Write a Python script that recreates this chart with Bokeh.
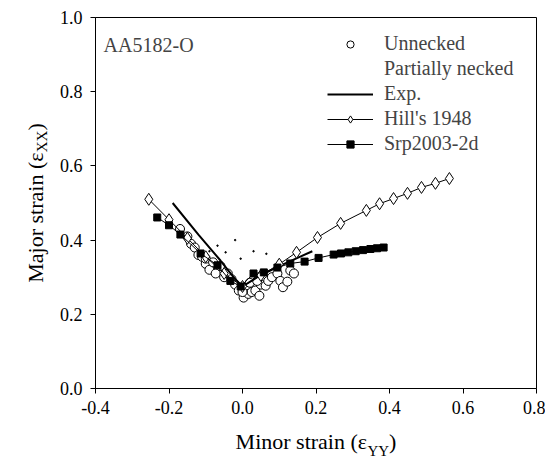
from bokeh.plotting import figure
from bokeh.models import Range1d, FixedTicker, NumeralTickFormatter, Legend, Label, LinearAxis
from bokeh.embed import file_html
from bokeh.resources import INLINE

# ---------------- data ----------------
unnecked_x = [-0.17, -0.15, -0.14, -0.13, -0.12, -0.11, -0.10, -0.10, -0.09, -0.08, -0.073, -0.06,
              -0.05, -0.04, -0.03, -0.02, -0.01, 0.003, 0.01, 0.016, 0.025, 0.035, 0.046, 0.05,
              0.063, 0.07, 0.08, 0.095, 0.103, 0.11, 0.122, 0.13, 0.14, 0.02, 0.04, 0.0]
unnecked_y = [0.43, 0.41, 0.39, 0.38, 0.36, 0.355, 0.336, 0.35, 0.32, 0.34, 0.31, 0.33,
              0.30, 0.31, 0.295, 0.28, 0.264, 0.245, 0.27, 0.255, 0.26, 0.264, 0.25, 0.28,
              0.277, 0.29, 0.30, 0.31, 0.29, 0.273, 0.288, 0.318, 0.31, 0.285, 0.29, 0.26]
partial_x = [-0.068, -0.046, -0.005, 0.065, -0.02, 0.03, -0.09]
partial_y = [0.385, 0.367, 0.35, 0.363, 0.40, 0.37, 0.37]
exp_x = [-0.19, -0.12, -0.06, -0.02, 0.0, 0.04, 0.1, 0.19]
exp_y = [0.50, 0.415, 0.345, 0.295, 0.275, 0.30, 0.33, 0.37]
hill_x = [-0.255, -0.2, -0.15, -0.1, -0.05, 0.0, 0.05, 0.1, 0.147, 0.204, 0.267, 0.337,
          0.373, 0.411, 0.449, 0.487, 0.525, 0.563]
hill_y = [0.51, 0.455, 0.405, 0.355, 0.31, 0.275, 0.305, 0.335, 0.367, 0.407, 0.445, 0.48,
          0.498, 0.512, 0.526, 0.542, 0.553, 0.566]
srp_x = [-0.232, -0.2, -0.169, -0.114, -0.068, -0.033, -0.005, 0.03, 0.058, 0.095, 0.13,
         0.169, 0.207, 0.248, 0.268, 0.288, 0.308, 0.328, 0.348, 0.366, 0.384]
srp_y = [0.461, 0.44, 0.415, 0.364, 0.332, 0.29, 0.275, 0.31, 0.313, 0.326, 0.337,
         0.342, 0.352, 0.361, 0.364, 0.367, 0.37, 0.373, 0.376, 0.378, 0.38]
x_ticks = [-0.4, -0.2, 0.0, 0.2, 0.4, 0.6, 0.8]
y_ticks = [0.0, 0.2, 0.4, 0.6, 0.8, 1.0]
legend_labels = ["Unnecked", "Partially necked", "Exp.", "Hill's 1948", "Srp2003-2d"]
title_text = "AA5182-O"
# axis labels: main text (em space leaves room for the subscript) and subscript
x_label = "Minor strain (\u03b5\u2003)"
x_sub = "YY"
y_label = "Major strain (\u03b5\u2003)"
y_sub = "XX"
x_sub_pos = 0.3695   # centre of the em space, in data units
y_sub_pos = 0.666

FONT = "Liberation Serif"
TICK_FS = "18px"
LEG_FS = "20px"
LAB_FS = "22px"
SUB_FS = "15px"

p = figure(width=545, height=465, output_backend="svg", toolbar_location=None,
           x_range=Range1d(-0.4, 0.8), y_range=Range1d(0.0, 1.0),
           min_border_left=95, min_border_right=9, min_border_top=17, min_border_bottom=77)
p.grid.visible = False
p.outline_line_color = "black"
p.outline_line_width = 1

for ax in (p.xaxis[0], p.yaxis[0]):
    ax.axis_line_color = "black"
    ax.major_tick_line_color = "black"
    ax.minor_tick_line_color = None
    ax.major_tick_out = 5
    ax.major_tick_in = 0
    ax.major_label_text_font = FONT
    ax.major_label_text_font_size = TICK_FS
    ax.major_label_text_color = "black"
    ax.formatter = NumeralTickFormatter(format="0.0")
    ax.axis_label_text_font = FONT
    ax.axis_label_text_font_size = LAB_FS
    ax.axis_label_text_font_style = "normal"
    ax.axis_label_text_color = "black"
p.xaxis[0].ticker = FixedTicker(ticks=x_ticks)
p.yaxis[0].ticker = FixedTicker(ticks=y_ticks)
p.xaxis[0].major_label_standoff = 7
p.yaxis[0].major_label_standoff = 8
p.xaxis[0].axis_label = x_label
p.yaxis[0].axis_label = y_label
p.xaxis[0].axis_label_standoff = 12
p.yaxis[0].axis_label_standoff = 9


# subscript axes (only labels, no lines or ticks)
def sub_axis(pos, text, standoff, orientation):
    a = LinearAxis(ticker=FixedTicker(ticks=[pos]), major_label_overrides={pos: text},
                   axis_line_color=None, major_tick_line_color=None, minor_tick_line_color=None,
                   major_tick_out=0, major_tick_in=0, major_label_standoff=standoff,
                   major_label_text_font=FONT, major_label_text_font_size=SUB_FS,
                   major_label_text_color="black", major_label_orientation=orientation)
    return a


p.add_layout(sub_axis(x_sub_pos, x_sub, -14, "horizontal"), "below")
p.add_layout(sub_axis(y_sub_pos, y_sub, -31, "vertical"), "left")

r_un = p.scatter(unnecked_x, unnecked_y, marker="circle", size=9, fill_color="white",
                 line_color="black", line_width=1)
p.scatter(partial_x, partial_y, marker="circle", size=1.5, fill_color="black", line_color="black")
r_pa = p.scatter([], [], marker="circle", size=1, fill_alpha=0, line_alpha=0)
r_exp = p.line(exp_x, exp_y, line_color="black", line_width=2)
r_hl = p.line(hill_x, hill_y, line_color="black", line_width=1)
r_hs = p.scatter(hill_x, hill_y, marker="diamond", size=12, fill_color="white",
                 line_color="black", line_width=1)
r_sl = p.line(srp_x, srp_y, line_color="black", line_width=1)
r_ss = p.scatter(srp_x, srp_y, marker="square", size=7, fill_color="black", line_color="black")

legend = Legend(items=[(legend_labels[0], [r_un]), (legend_labels[1], [r_pa]),
                       (legend_labels[2], [r_exp]), (legend_labels[3], [r_hl, r_hs]),
                       (legend_labels[4], [r_sl, r_ss])],
                location=(232, 233), padding=0, margin=0, spacing=2,
                glyph_width=46, glyph_height=18, label_height=23, label_standoff=11,
                label_text_font=FONT, label_text_font_size=LEG_FS,
                border_line_color=None, background_fill_alpha=0)
p.add_layout(legend, "center")
p.add_layout(Label(x=-0.378, y=0.927, text=title_text, text_font=FONT,
                   text_font_size=LEG_FS, text_baseline="middle", text_align="left"))

open("out.html", "w").write(file_html(p, INLINE))
